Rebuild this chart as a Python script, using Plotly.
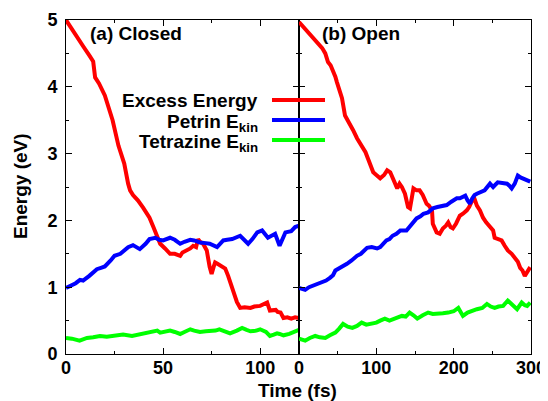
import plotly.graph_objects as go

# ---- data: (a) Closed ----
a_red_t = [0, 3, 6, 9, 12, 14, 15, 17, 20, 22, 24, 27, 30, 32, 33, 34.5, 37, 39.7, 43, 45, 46.7, 48.5, 51, 53.6, 56, 58.8,
           60, 62, 64, 65.5, 67, 68, 69, 70.6, 72.5, 74, 75, 76, 76.8, 78, 80, 82, 83.5, 85, 86, 88, 89.7, 92, 95, 97,
           100, 102, 103.6, 105, 106, 108, 109, 110.5, 112, 114, 116, 118, 120]
a_red_e = [5.0, 4.86, 4.73, 4.6, 4.47, 4.38, 4.14, 4.05, 3.87, 3.68, 3.5, 3.12, 2.85, 2.55, 2.45, 2.38, 2.3, 2.19, 2.04, 1.9,
           1.78, 1.65, 1.58, 1.5, 1.5, 1.47, 1.52, 1.55, 1.58, 1.62, 1.6, 1.72, 1.68, 1.65, 1.55, 1.3, 1.2, 1.3, 1.37, 1.35,
           1.32, 1.28, 1.17, 1.05, 0.95, 0.78, 0.69, 0.7, 0.69, 0.71, 0.72, 0.74, 0.77, 0.65, 0.65, 0.66, 0.63, 0.62, 0.54,
           0.55, 0.53, 0.55, 0.54]
a_blue_t = [0, 3, 5, 7.2, 8.8, 12, 15.9, 18, 20, 23, 25, 28, 30.4, 32, 34.5, 36, 38, 41, 43, 46, 48, 50, 53.6, 56, 58.8,
            61, 64, 66, 69, 72, 74, 77.8, 81, 83, 85.6, 89.7, 91, 93.8, 96, 98.5, 101, 104, 107.7, 110, 113, 116, 118, 120]
a_blue_e = [0.99, 1.03, 1.06, 1.11, 1.10, 1.17, 1.27, 1.29, 1.31, 1.40, 1.47, 1.5, 1.55, 1.6, 1.63, 1.61, 1.57, 1.65, 1.72,
            1.74, 1.71, 1.70, 1.74, 1.71, 1.65, 1.68, 1.71, 1.70, 1.67, 1.66, 1.65, 1.6, 1.7, 1.71, 1.72, 1.77, 1.73, 1.65,
            1.72, 1.82, 1.85, 1.74, 1.8, 1.62, 1.82, 1.84, 1.9, 1.92]
a_green_t = [0, 3, 7, 10.8, 14, 17.5, 21, 25, 29.4, 34, 37, 39.7, 43, 47, 48.5, 51, 53.6, 56, 58.8, 61, 64, 66, 69, 72, 74,
             77, 79, 82, 84.5, 88, 90.7, 93, 95, 98, 100, 103, 105, 107, 108.7, 110, 112, 115, 118, 120]
a_green_e = [0.24, 0.23, 0.2, 0.24, 0.25, 0.27, 0.26, 0.28, 0.29, 0.27, 0.29, 0.3, 0.33, 0.35, 0.32, 0.33, 0.35, 0.33, 0.3,
             0.33, 0.37, 0.35, 0.33, 0.34, 0.34, 0.35, 0.37, 0.34, 0.31, 0.35, 0.39, 0.36, 0.34, 0.35, 0.37, 0.33, 0.27,
             0.29, 0.31, 0.3, 0.28, 0.3, 0.34, 0.36]

# ---- data: (b) Open ----
b_red_t = [0, 4, 8, 14, 20.7, 25, 30, 34, 37.5, 41, 44, 47, 49, 52, 55.6, 59.5, 63, 66, 70, 75, 79, 83, 86, 89, 93, 96,
           100, 105, 110, 114, 118, 120, 124, 127, 130, 133, 137, 140, 141, 143.5, 146, 148, 152, 156, 160, 165, 168,
           172, 173, 175, 178, 182, 186, 190, 193, 196, 199, 203, 208, 212, 217, 220, 224, 227, 230, 234, 238, 242, 247,
           251, 253, 258, 262, 266, 270, 275, 279, 283, 286, 289, 292, 295, 299]
b_red_e = [4.97, 4.92, 4.85, 4.78, 4.7, 4.64, 4.58, 4.5, 4.37, 4.32, 4.25, 4.15, 4.07, 3.95, 3.83, 3.57, 3.5, 3.42, 3.35,
           3.23, 3.15, 3.08, 3.02, 2.93, 2.82, 2.72, 2.68, 2.63, 2.68, 2.75, 2.72, 2.67, 2.55, 2.48, 2.55, 2.5, 2.4, 2.27,
           2.2, 2.18, 2.35, 2.48, 2.45, 2.45, 2.38, 2.25, 2.22, 2.15, 1.95, 1.88, 1.82, 1.8, 1.88, 1.92, 1.97, 1.9, 1.88,
           1.95, 2.07, 2.1, 2.15, 2.2, 2.3, 2.32, 2.22, 2.15, 2.04, 1.97, 1.89, 1.85, 1.74, 1.72, 1.7, 1.62, 1.55, 1.5,
           1.44, 1.38, 1.29, 1.25, 1.17, 1.22, 1.3]
b_blue_t = [0, 4, 8, 13, 18, 24, 30, 35, 40, 44, 47, 52, 57, 62, 68, 75, 80, 88, 94, 101, 105, 109, 113, 117, 121, 126,
            131, 139, 144, 148, 152, 157, 161, 167, 173, 179, 185, 191, 197, 204, 208, 212, 215, 218, 221, 224, 227, 230,
            234, 240, 247, 251, 257, 263, 269, 272, 275, 279, 283, 287, 292, 296, 299]
b_blue_e = [0.99, 0.98, 0.96, 1.0, 1.02, 1.05, 1.07, 1.1, 1.14, 1.18, 1.25, 1.28, 1.32, 1.35, 1.4, 1.47, 1.5, 1.59, 1.6,
            1.58, 1.6, 1.65, 1.7, 1.72, 1.77, 1.8, 1.85, 1.85, 1.92, 1.97, 2.03, 2.06, 2.1, 2.12, 2.18, 2.2, 2.22, 2.23,
            2.28, 2.33, 2.33, 2.36, 2.37, 2.3, 2.25, 2.33, 2.38, 2.4, 2.42, 2.45, 2.55, 2.5, 2.57, 2.56, 2.55, 2.52, 2.48,
            2.55, 2.67, 2.64, 2.62, 2.6, 2.58]
b_green_t = [0, 4, 8, 14, 21, 27, 34, 40, 47, 52, 57, 63, 69, 75, 81, 87, 94, 100, 105, 111, 117, 124, 128, 133, 138, 143,
             148, 153, 160, 167, 173, 180, 186, 193, 200, 206, 209, 212, 218, 224, 230, 237, 243, 248, 253, 258, 264, 270,
             276, 282, 288, 292, 295, 299]
b_green_e = [0.23, 0.22, 0.2, 0.24, 0.27, 0.25, 0.24, 0.28, 0.32, 0.38, 0.45, 0.41, 0.39, 0.42, 0.47, 0.44, 0.45, 0.47,
             0.5, 0.53, 0.5, 0.53, 0.55, 0.57, 0.56, 0.62, 0.58, 0.53, 0.58, 0.62, 0.6, 0.6, 0.61, 0.62, 0.64, 0.69, 0.62,
             0.57, 0.62, 0.65, 0.67, 0.69, 0.75, 0.71, 0.69, 0.71, 0.72, 0.8, 0.73, 0.67, 0.77, 0.73, 0.72, 0.77]

legend_labels = ["Excess Energy", "Petrin E<sub>kin</sub>", "Tetrazine E<sub>kin</sub>"]
colors = ["#ff0000", "#0000ff", "#00ff00"]
panel_titles = ["(a) Closed", "(b) Open"]

FONT = "Liberation Sans, Arial, Helvetica, sans-serif"
LW = 4

fig = go.Figure()
for t, e, c in [(a_red_t, a_red_e, colors[0]), (a_blue_t, a_blue_e, colors[1]), (a_green_t, a_green_e, colors[2])]:
    fig.add_trace(go.Scatter(x=t, y=e, mode="lines", line=dict(color=c, width=LW), xaxis="x", yaxis="y",
                             showlegend=False))
for t, e, c in [(b_red_t, b_red_e, colors[0]), (b_blue_t, b_blue_e, colors[1]), (b_green_t, b_green_e, colors[2])]:
    fig.add_trace(go.Scatter(x=t, y=e, mode="lines", line=dict(color=c, width=LW), xaxis="x2", yaxis="y2",
                             showlegend=False))

# page has an 8px body margin: figure is drawn at (8, 8) in the window
OFF = 8
W, H = 540, 393
PL, PR, PT, PB = 66, 531, 20, 354   # plot area in window pixels
ml, mr, mt, mb = PL - OFF, W - (PR - OFF), PT - OFF, H - (PB - OFF)
pw = W - ml - mr
ph = H - mt - mb
split = (299 - PL) / pw

tickfont = dict(family=FONT, size=18, color="black", weight="bold")
axis_common = dict(showline=True, linecolor="black", linewidth=1, mirror="ticks", ticks="inside", ticklen=6,
                   tickwidth=1, tickcolor="black", showgrid=False, zeroline=False, tickfont=tickfont)

fig.update_layout(
    width=W, height=H,
    margin=dict(l=ml, r=mr, t=mt, b=mb, autoexpand=False),
    paper_bgcolor="white", plot_bgcolor="white",
    xaxis=dict(domain=[0, split], range=[0, 120], tickvals=[0, 50, 100],
               minor=dict(ticks="inside", ticklen=3, dtick=25, tick0=0, tickcolor="black"),
               anchor="y", ticklabelstandoff=-3, **axis_common),
    yaxis=dict(domain=[0, 1], range=[0, 5], dtick=1, tick0=0,
               minor=dict(ticks="inside", ticklen=3, dtick=0.5, tick0=0, tickcolor="black"),
               anchor="x", ticklabelstandoff=4, **axis_common),
    xaxis2=dict(domain=[split, 1], range=[0, 300], tickvals=[0, 100, 200, 300],
                minor=dict(ticks="inside", ticklen=3, dtick=50, tick0=0, tickcolor="black"),
                anchor="y2", ticklabelstandoff=-3, **axis_common),
    yaxis2=dict(domain=[0, 1], range=[0, 5], dtick=1, tick0=0, showticklabels=False,
                minor=dict(ticks="inside", ticklen=3, dtick=0.5, tick0=0, tickcolor="black"),
                anchor="x2", **axis_common),
)

def px_x(p):
    return (p - PL) / pw

def px_y(p):
    return (PB - p) / ph

tfont = dict(family=FONT, size=19, color="black", weight="bold")
annots = []
annots.append(dict(text=panel_titles[0], x=px_x(88), y=px_y(33), xref="paper", yref="paper", xanchor="left",
                   yanchor="middle", showarrow=False, font=tfont))
annots.append(dict(text=panel_titles[1], x=px_x(320), y=px_y(33), xref="paper", yref="paper", xanchor="left",
                   yanchor="middle", showarrow=False, font=tfont))
annots.append(dict(text="Time (fs)", x=px_x(297), y=px_y(390), xref="paper", yref="paper", xanchor="center",
                   yanchor="middle", showarrow=False, font=tfont))
annots.append(dict(text="Energy (eV)", x=px_x(20), y=px_y(186), xref="paper", yref="paper", xanchor="center",
                   yanchor="middle", textangle=-90, showarrow=False, font=tfont))

shapes = []
leg_y = [100, 120, 140]
for lab, c, yy in zip(legend_labels, colors, leg_y):
    dy = 0 if "sub" not in lab else 3
    annots.append(dict(text=lab, x=px_x(260), y=px_y(yy + dy), xref="paper", yref="paper", xanchor="right",
                       yanchor="middle", showarrow=False, font=tfont))
    shapes.append(dict(type="line", xref="paper", yref="paper", x0=px_x(272), x1=px_x(325), y0=px_y(yy), y1=px_y(yy),
                       line=dict(color=c, width=LW)))

fig.update_layout(annotations=annots, shapes=shapes)
fig.write_html("out.html")
